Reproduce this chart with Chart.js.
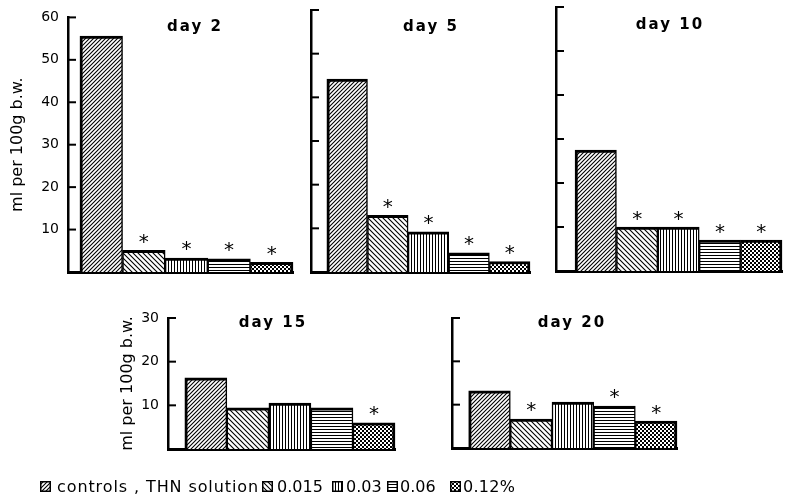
<!DOCTYPE html>
<html><head><meta charset="utf-8">
<script src="https://cdn.jsdelivr.net/npm/chart.js@4.4.1/dist/chart.umd.min.js"></script>
<style>
html,body{margin:0;padding:0;background:#fff;}
#wrap{position:relative;width:786px;height:501px;overflow:hidden;background:#fff;}
#wrap canvas.chart{position:absolute;left:0;top:0;}
.leg{position:absolute;font:16px "DejaVu Sans",sans-serif;color:#000;white-space:nowrap;line-height:18px;}
.sw{position:absolute;}
</style></head><body><div id="wrap"></div>
<script>
// ---------- data ----------
const categories = ['controls', '0.015', '0.03', '0.06', '0.12%'];
const panelTitles = ['day 2', 'day 5', 'day 10', 'day 15', 'day 20'];
const day2  = [55.6, 5.1, 3.3, 3.1, 2.3];
const day5  = [44.2, 13.0, 9.2, 4.4, 2.4];
const day10 = [27.5, 10.0, 10.0, 7.0, 7.0];
const day15 = [16.3, 9.4, 10.5, 9.4, 6.0];
const day20 = [13.2, 6.7, 10.6, 9.7, 6.2];
const stars2  = [false, true, true, true, true];
const stars5  = [false, true, true, true, true];
const stars10 = [false, true, true, true, true];
const stars15 = [false, false, false, false, true];
const stars20 = [false, true, false, true, true];
const yMaxes = [60, 60, 60, 30, 30];
const yStep = 10;
const yTitle = 'ml per 100g b.w.';
const legendLabels = ['controls , THN solution', '0.015', '0.03', '0.06', '0.12%'];

// ---------- layout (pixels) ----------
const W = 786, H = 501;
const panels = [
  {left:68,  right:293, top:13,  bottom:272, xMin:-0.78, tx:195, ty:27,  showY:true,  axisLeft:8.4},
  {left:311, right:530, top:10,  bottom:272, xMin:-0.89, tx:431, ty:27,  showY:false, axisLeft:301},
  {left:556, right:782, top:7,   bottom:271, xMin:-0.96, tx:670, ty:25,  showY:false, axisLeft:546},
  {left:168, right:395, top:318, bottom:449, xMin:-0.90, tx:273, ty:323, showY:true,  axisLeft:118.4},
  {left:452, right:677, top:318, bottom:448, xMin:-0.90, tx:572, ty:323, showY:false, axisLeft:442}
];
const legendPos = [{sx:40, tx:57, ls:0.9},{sx:262, tx:277, ls:0},{sx:332, tx:346, ls:0},{sx:387, tx:400, ls:0},{sx:450, tx:463, ls:0.3}];

// ---------- patterns ----------
function makePattern(kind){
  const c = document.createElement('canvas');
  let s = 4, h = 4;
  if (kind === 'back') { s = 5; h = 5; }
  if (kind === 'vert' || kind === 'horiz') { s = 3; h = 3; }
  c.width = s; c.height = h;
  const g = c.getContext('2d');
  g.fillStyle = '#fff';
  g.fillRect(0, 0, s, h);
  g.fillStyle = '#000';
  g.strokeStyle = '#000';
  if (kind === 'fwd') {
    g.lineWidth = 1.1; g.beginPath();
    g.moveTo(-1,5); g.lineTo(5,-1); g.moveTo(-1,1); g.lineTo(1,-1); g.moveTo(3,5); g.lineTo(5,3); g.stroke();
  } else if (kind === 'back') {
    g.lineWidth = 1.1; g.beginPath();
    g.moveTo(-1,-1); g.lineTo(6,6); g.moveTo(4,-1); g.lineTo(6,1); g.moveTo(-1,4); g.lineTo(1,6); g.stroke();
  } else if (kind === 'vert') {
    g.fillRect(0,0,1,3);
  } else if (kind === 'horiz') {
    g.fillRect(0,0,3,1);
  } else {
    g.fillRect(0,0,2,2); g.fillRect(2,2,2,2);
  }
  return g.createPattern(c, 'repeat');
}
const patterns = ['fwd','back','vert','horiz','dots'].map(makePattern);

// ---------- decoration plugin ----------
const decor = {
  id: 'decor',
  afterDraw(chart, args, o) {
    const ctx = chart.ctx, y = chart.scales.y, area = chart.chartArea;
    ctx.save();
    ctx.strokeStyle = '#000'; ctx.lineWidth = 2;
    y.ticks.forEach(t => {
      if (t.value === 0) return;
      const py = y.getPixelForValue(t.value);
      ctx.beginPath(); ctx.moveTo(area.left, py); ctx.lineTo(area.left + 8, py); ctx.stroke();
    });
    ctx.fillStyle = '#000';
    ctx.font = 'bold 15px "DejaVu Sans"';
    ctx.letterSpacing = '2px';
    ctx.textAlign = 'center'; ctx.textBaseline = 'middle';
    ctx.fillText(o.title, o.tx, o.ty);
    ctx.letterSpacing = '0px';
    ctx.font = '20px "DejaVu Sans"';
    ctx.textBaseline = 'alphabetic';
    const m = ctx.measureText('*');
    const off = (m.actualBoundingBoxAscent - m.actualBoundingBoxDescent) / 2;
    chart.getDatasetMeta(0).data.forEach((el, i) => {
      if (o.stars[i]) ctx.fillText('*', el.x, el.y - 12 + off);
    });
    ctx.restore();
  }
};

// ---------- charts ----------
const wrap = document.getElementById('wrap');
const panelData = [day2, day5, day10, day15, day20];
const panelStars = [stars2, stars5, stars10, stars15, stars20];

panels.forEach((p, k) => {
  const cv = document.createElement('canvas');
  cv.width = W; cv.height = H; cv.className = 'chart';
  wrap.appendChild(cv);
  const values = panelData[k];
  new Chart(cv, {
    type: 'bar',
    data: {
      labels: categories,
      datasets: [{
        data: values.map((v, i) => ({x: i, y: v})),
        backgroundColor: patterns,
        borderColor: '#000',
        borderWidth: c => ({top: 3, bottom: 0, left: c.dataIndex === 0 ? 3 : 1.5, right: c.dataIndex === 4 ? 3 : 1.5}),
        borderSkipped: false,
        barThickness: 'flex',
        barPercentage: 1,
        categoryPercentage: 1,
        clip: false
      }]
    },
    options: {
      responsive: false, animation: false, events: [],
      devicePixelRatio: 1,
      layout: {padding: {left: p.axisLeft, right: W - p.right, top: p.top, bottom: H - p.bottom}},
      plugins: {
        legend: {display: false}, tooltip: {enabled: false}, title: {display: false},
        decor: {title: panelTitles[k], tx: p.tx, ty: p.ty, stars: panelStars[k]}
      },
      scales: {
        x: {
          type: 'linear', min: p.xMin, max: 4.5, offset: false,
          ticks: {display: false, stepSize: 1},
          grid: {display: false, drawTicks: false},
          border: {display: true, color: '#000', width: 3},
          afterFit(s) { s.height = 0; }
        },
        y: {
          min: 0, max: yMaxes[k],
          ticks: {display: p.showY, stepSize: yStep, padding: 9, color: '#000',
                  font: {family: 'DejaVu Sans', size: 14},
                  callback: v => v === 0 ? '' : v},
          grid: {display: false, drawTicks: false},
          border: {display: true, color: '#000', width: 2.5},
          title: {display: p.showY, text: yTitle, color: '#000',
                  font: {family: 'DejaVu Sans', size: 16}, padding: 0},
          afterFit(s) { s.width = p.left - p.axisLeft; }
        }
      }
    },
    plugins: [decor]
  });
});

// ---------- legend ----------
legendLabels.forEach((lab, i) => {
  const pos = legendPos[i];
  const sw = document.createElement('canvas');
  sw.width = 11; sw.height = 11; sw.className = 'sw';
  sw.style.left = pos.sx + 'px'; sw.style.top = '481px';
  const g = sw.getContext('2d');
  g.fillStyle = patterns[i]; g.fillRect(0, 0, 11, 11);
  g.strokeStyle = '#000'; g.lineWidth = 1.5; g.strokeRect(0.75, 0.75, 9.5, 9.5);
  wrap.appendChild(sw);
  const d = document.createElement('div');
  d.className = 'leg'; d.textContent = lab;
  d.style.left = pos.tx + 'px'; d.style.top = '478px';
  d.style.letterSpacing = pos.ls + 'px';
  wrap.appendChild(d);
});
</script></body></html>
